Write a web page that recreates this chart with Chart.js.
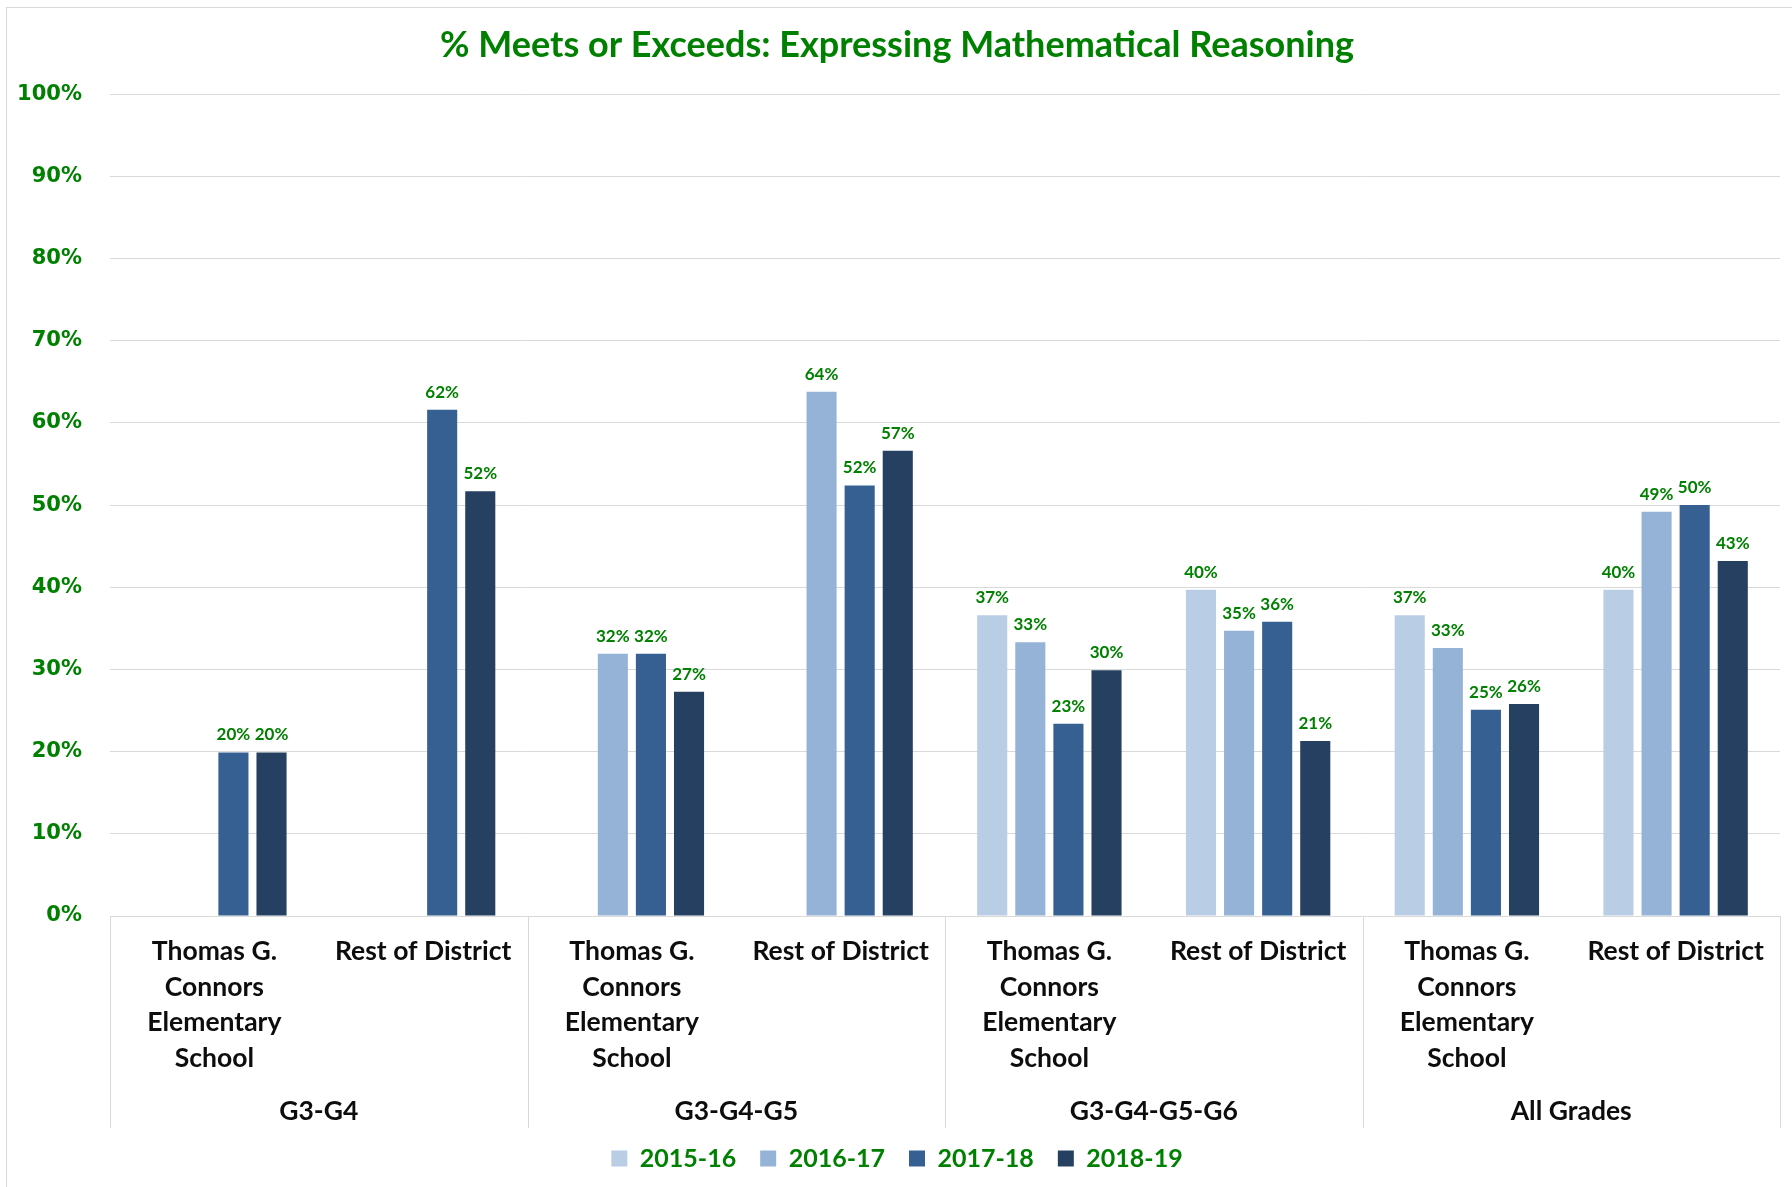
<!DOCTYPE html>
<html>
<head>
<meta charset="utf-8">
<script src="https://cdn.jsdelivr.net/npm/chart.js@4.4.1/dist/chart.umd.min.js"></script>
<style>
  body { margin: 0; background: #fff; overflow: hidden; }
  #wrap { position: absolute; left: 0; top: 0; width: 1792px; height: 1187px; }
  #frame { position: absolute; left: 6px; top: 7px; width: 1800px; height: 1200px; border: 1px solid #d9d9d9; }
  #demoChart { position: absolute; left: 0; top: 0; }
</style>
</head>
<body>
<div id="wrap">
  <div id="frame"></div>
  <canvas id="demoChart" width="1792" height="1187"></canvas>
</div>
<script>
// --- data ---
const groups = ['G3-G4', 'G3-G4-G5', 'G3-G4-G5-G6', 'All Grades'];
const schools = [['Thomas G.', 'Connors', 'Elementary', 'School'], 'Rest of District'];
const categories = [];
groups.forEach(() => schools.forEach(s => categories.push(s)));

const years = ['2015-16', '2016-17', '2017-18', '2018-19'];
const yearColors = ['#b9cde5', '#95b3d7', '#366092', '#254061'];

// one value per category, order: G3-G4 (Thomas, Rest), G3-G4-G5 (...), ...
const v2015 = [null, null, null, null, 36.6, 39.7, 36.6, 39.7];
const v2016 = [null, null, 31.9, 63.8, 33.3, 34.7, 32.6, 49.2];
const v2017 = [19.9, 61.6, 31.9, 52.4, 23.4, 35.8, 25.1, 50.0];
const v2018 = [19.9, 51.7, 27.3, 56.6, 29.9, 21.3, 25.8, 43.2];
const seriesValues = [v2015, v2016, v2017, v2018];

const yTicks = [0, 10, 20, 30, 40, 50, 60, 70, 80, 90, 100];

const GREEN = '#008000';
const TEXT_FONT = 'Lato';

// value labels above bars
const valueLabels = {
    id: 'valueLabels',
    afterDatasetsDraw(chart) {
        const ctx = chart.ctx;
        ctx.save();
        ctx.font = 'bold 17px ' + TEXT_FONT;
        ctx.fillStyle = GREEN;
        ctx.textAlign = 'center';
        ctx.textBaseline = 'alphabetic';
        chart.data.datasets.forEach((ds, i) => {
            const meta = chart.getDatasetMeta(i);
            meta.data.forEach((bar, j) => {
                const v = ds.data[j];
                if (v === null || v === undefined) return;
                ctx.fillText(Math.round(v) + '%', bar.x, bar.y - 12);
            });
        });
        ctx.restore();
    }
};

// vertical separators between the grade groups, through both label rows
const groupDividers = {
    id: 'groupDividers',
    afterDraw(chart) {
        const x2 = chart.scales.x2;
        const area = chart.chartArea;
        const step = x2.width / groups.length;
        const ctx = chart.ctx;
        ctx.save();
        ctx.strokeStyle = '#d9d9d9';
        ctx.lineWidth = 1;
        for (let i = 0; i <= groups.length; i++) {
            const x = Math.round(x2.left + i * step) + 0.5;
            ctx.beginPath();
            ctx.moveTo(x, area.bottom);
            ctx.lineTo(x, x2.bottom + 6);
            ctx.stroke();
        }
        ctx.restore();
    }
};

function initChart() {
    const ctx = document.getElementById('demoChart').getContext('2d');
    Chart.defaults.font.family = TEXT_FONT;

    new Chart(ctx, {
        type: 'bar',
        data: {
            labels: categories,
            datasets: years.map((y, i) => ({
                label: y,
                data: seriesValues[i],
                backgroundColor: yearColors[i],
                borderWidth: 0,
                categoryPercentage: 0.73,
                barPercentage: 0.79
            }))
        },
        options: {
            responsive: false,
            animation: false,
            layout: { padding: { left: 14, right: 12, top: 0, bottom: 6 } },
            plugins: {
                title: {
                    display: true,
                    text: '% Meets or Exceeds: Expressing Mathematical Reasoning',
                    color: GREEN,
                    font: { family: TEXT_FONT, size: 36, weight: 'bold', lineHeight: 1.2 },
                    padding: { top: 24, bottom: 27 }
                },
                legend: {
                    position: 'bottom',
                    labels: {
                        boxWidth: 16,
                        boxHeight: 16,
                        padding: 24,
                        color: GREEN,
                        font: { family: TEXT_FONT, size: 25, weight: 'bold' }
                    }
                },
                tooltip: { enabled: false }
            },
            scales: {
                y: {
                    min: 0,
                    max: 100,
                    afterBuildTicks: s => { s.ticks = yTicks.map(v => ({ value: v })); },
                    afterFit: s => { s.width = 96; },
                    ticks: {
                        padding: 28,
                        color: GREEN,
                        font: { family: 'DejaVu Sans', size: 21, weight: 'bold' },
                        callback: v => v + '%'
                    },
                    grid: { color: '#d9d9d9', lineWidth: 1, drawTicks: false },
                    border: { display: false }
                },
                x: {
                    afterFit: s => { s.height = 170; },
                    grid: { display: false },
                    border: { display: false },
                    ticks: {
                        padding: 10,
                        maxRotation: 0,
                        autoSkip: false,
                        color: '#0d0d0d',
                        font: { family: TEXT_FONT, size: 26.5, weight: 'bold', lineHeight: 1.34 }
                    }
                },
                x2: {
                    type: 'category',
                    position: 'bottom',
                    weight: 1,
                    labels: groups,
                    offset: true,
                    afterFit: s => { s.height = 36; },
                    grid: { display: false },
                    border: { display: false },
                    ticks: {
                        padding: 0,
                        maxRotation: 0,
                        color: '#0d0d0d',
                        font: { family: TEXT_FONT, size: 26.5, weight: 'bold', lineHeight: 1.34 }
                    }
                }
            }
        },
        plugins: [valueLabels, groupDividers]
    });
}

Promise.all([
    document.fonts.load('bold 25px Lato'),
    document.fonts.load('bold 20px "DejaVu Sans"')
]).then(initChart, initChart);
</script>
</body>
</html>
